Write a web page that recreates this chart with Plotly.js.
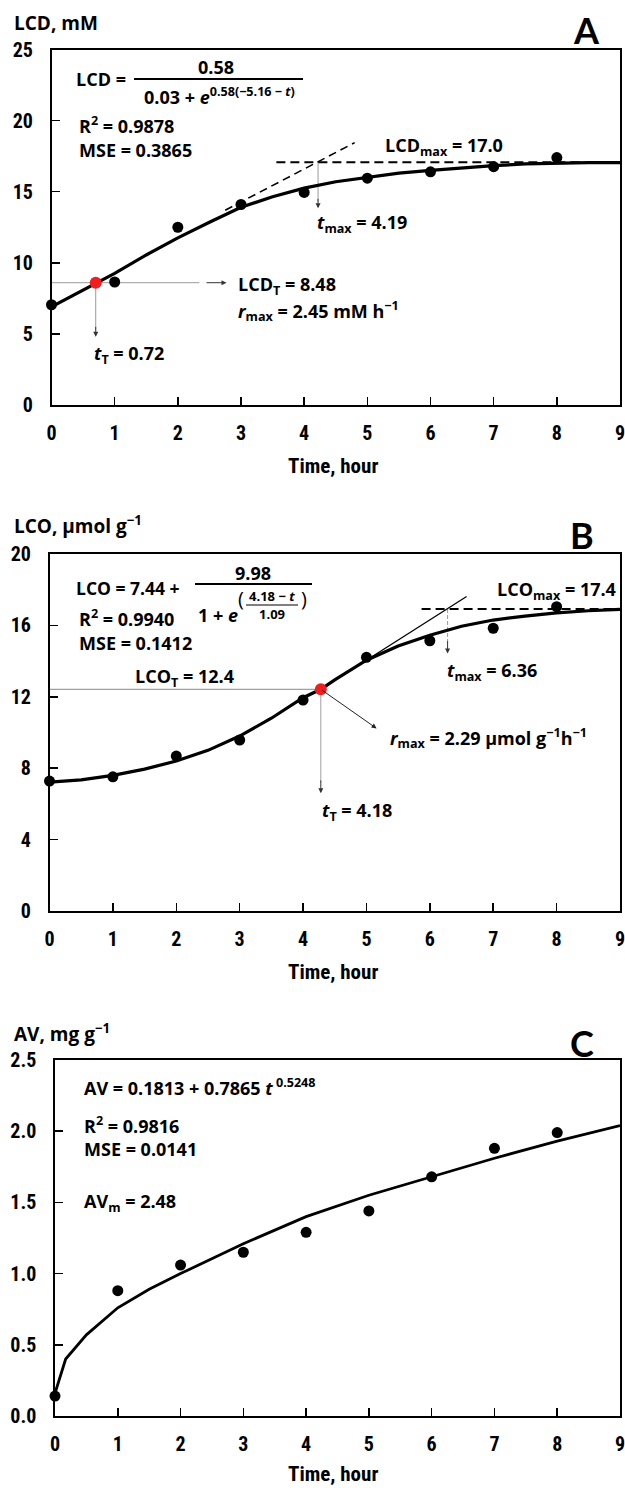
<!DOCTYPE html>
<html><head><meta charset="utf-8">
<script src="https://cdn.plot.ly/plotly-3.0.1.min.js"></script>
<style>html,body{margin:0;padding:0;background:#fff;}#chart{width:625px;height:1488px;}</style>
</head><body><div id="chart"></div>
<script>
// ---------- DATA ----------
const timePoints = [0,1,2,3,4,5,6,7,8];
const lcdObserved = [7.05,8.65,12.5,14.1,14.95,15.95,16.4,16.76,17.4];
const lcdCurveT = [0,0.5,0.7,1,1.5,2,2.5,3,3.5,4,4.5,5,5.5,6,6.5,7,7.5,8,8.5,9];
const lcdCurveY = [6.9,8.1,8.55,9.25,10.55,11.75,12.85,13.9,14.65,15.25,15.7,16.0,16.3,16.5,16.68,16.83,16.95,17.02,17.05,17.05];
const lcdTurnT = [0.7], lcdTurnY = [8.6];
const lcdTangentT = [2.75,4.8], lcdTangentY = [13.7,18.45];
const lcdMaxT = [3.56,8.4], lcdMaxY = [17.07,17.07];
const lcdGuideHT = [0,2.34], lcdGuideHY = [8.6,8.6];
const lcdGuideVT = [0.7,0.7], lcdGuideVY = [8.6,5.3];
const lcdTmaxT = [4.22,4.22], lcdTmaxY = [17.07,14.3];

const lcoObserved = [7.28,7.52,8.68,9.58,11.82,14.21,15.14,15.84,17.05];
const lcoCurveT = [0,0.5,1,1.5,2,2.5,3,3.5,4,4.28,4.5,5,5.5,6,6.5,7,7.5,8,8.5,9];
const lcoCurveY = [7.22,7.35,7.6,7.95,8.4,9.0,9.8,10.8,11.95,12.42,12.95,14.05,14.85,15.45,15.95,16.3,16.52,16.7,16.82,16.9];
const lcoTurnT = [4.28], lcoTurnY = [12.42];
const lcoTangentT = [4.28,6.58], lcoTangentY = [12.42,17.62];
const lcoMaxT = [5.87,9], lcoMaxY = [16.92,16.92];
const lcoGuideHT = [0,4.28], lcoGuideHY = [12.42,12.42];
const lcoGuideVT = [4.28,4.28], lcoGuideVY = [12.42,7.2];
const lcoTmaxT = [6.28,6.28], lcoTmaxY = [16.92,15.0];

const avObserved = [0.14,0.88,1.06,1.15,1.29,1.44,1.68,1.88,1.99];
const avCurveT = [0,0.17,0.5,1,1.5,2,3,4,5,6,7,8,9];
const avCurveY = [0.16,0.40,0.57,0.76,0.89,1.0,1.21,1.40,1.55,1.68,1.81,1.93,2.04];

const xTicks = [0,1,2,3,4,5,6,7,8,9];
const yTicksA = [0,5,10,15,20,25];
const yTicksB = [0,4,8,12,16,20];
const yTicksC = [0,0.5,1,1.5,2,2.5];
const yTickTextC = ['0.0','0.5','1.0','1.5','2.0','2.5'];

// ---------- LAYOUT HELPERS ----------
const W = 625, H = 1488;
const px = v => v / W;
const py = v => 1 - v / H;
const TXT = "'Open Sans', Lato, sans-serif";
const TICK = "'Liberation Sans Narrow', 'Roboto Condensed', 'Liberation Sans', sans-serif";

function line(xs, ys, xa, ya, opt) {
  return Object.assign({x: xs, y: ys, xaxis: xa, yaxis: ya, mode: 'lines', hoverinfo: 'skip', showlegend: false, cliponaxis: false}, opt);
}
function pts(xs, ys, xa, ya, color, size) {
  return {x: xs, y: ys, xaxis: xa, yaxis: ya, mode: 'markers', showlegend: false, cliponaxis: false,
          marker: {color: color, size: size, line: {width: 0}}};
}
const traces = [
  // A
  line(lcdGuideHT, lcdGuideHY, 'x', 'y', {line: {color: '#9a9a9a', width: 1}}),
  line(lcdGuideVT, lcdGuideVY, 'x', 'y', {line: {color: '#9a9a9a', width: 1}}),
  line(lcdTmaxT, lcdTmaxY, 'x', 'y', {line: {color: '#9a9a9a', width: 1}}),
  line(lcdTangentT, lcdTangentY, 'x', 'y', {line: {color: '#000', width: 1.6, dash: '8px,5px'}}),
  line(lcdMaxT, lcdMaxY, 'x', 'y', {line: {color: '#000', width: 2, dash: '9px,5px'}}),
  line(lcdCurveT, lcdCurveY, 'x', 'y', {line: {color: '#000', width: 3.2}}),
  pts(timePoints, lcdObserved, 'x', 'y', '#000', 11),
  pts(lcdTurnT, lcdTurnY, 'x', 'y', '#f01e1e', 12),
  // B
  line(lcoGuideHT, lcoGuideHY, 'x2', 'y2', {line: {color: '#a0a0a0', width: 1.3}}),
  line(lcoGuideVT, lcoGuideVY, 'x2', 'y2', {line: {color: '#a0a0a0', width: 1}}),
  line(lcoTmaxT, lcoTmaxY, 'x2', 'y2', {line: {color: '#9a9a9a', width: 1, dash: '4px,2px'}}),
  line(lcoTangentT, lcoTangentY, 'x2', 'y2', {line: {color: '#000', width: 1.3}}),
  line(lcoMaxT, lcoMaxY, 'x2', 'y2', {line: {color: '#000', width: 2, dash: '9px,5px'}}),
  line(lcoCurveT, lcoCurveY, 'x2', 'y2', {line: {color: '#000', width: 3.2}}),
  pts(timePoints, lcoObserved, 'x2', 'y2', '#000', 11),
  pts(lcoTurnT, lcoTurnY, 'x2', 'y2', '#f01e1e', 12),
  // C
  line(avCurveT, avCurveY, 'x3', 'y3', {line: {color: '#000', width: 2.8}}),
  pts(timePoints, avObserved, 'x3', 'y3', '#000', 11)
];

function xax(l, r, anchor) {
  return {domain: [px(l), px(r)], range: [0, 9], tickvals: xTicks, anchor: anchor,
    showline: true, mirror: true, linecolor: '#000', linewidth: 1.6, ticks: 'inside', ticklen: 8,
    tickwidth: 1.5, tickcolor: '#000', showgrid: false, zeroline: false, ticklabelstandoff: 9,
    ticklabeloverflow: 'allow',
    tickfont: {family: TICK, size: 20, color: '#000', weight: 'bold'}};
}
function yax(top, bot, range, vals, anchor, text) {
  const o = {domain: [py(bot), py(top)], range: range, tickvals: vals, anchor: anchor,
    showline: true, mirror: true, linecolor: '#000', linewidth: 1.6, ticks: 'inside', ticklen: 8,
    tickwidth: 1.5, tickcolor: '#000', showgrid: false, zeroline: false, ticklabelstandoff: 13,
    ticklabeloverflow: 'allow',
    tickfont: {family: TICK, size: 20, color: '#000', weight: 'bold'}};
  if (text) o.ticktext = text;
  return o;
}

const ann = [];
function T(text, x, y, size, anchor, extra) {
  ann.push(Object.assign({text: text, xref: 'paper', yref: 'paper', x: px(x), y: py(y),
    xanchor: anchor || 'left', yanchor: 'middle', showarrow: false,
    font: {family: TXT, size: size || 18, color: '#000'}}, extra || {}));
}
function arrow(xr, yr, x0, y0, x1, y1, color) {
  ann.push({text: '', xref: xr, yref: yr, axref: xr, ayref: yr, ax: x0, ay: y0, x: x1, y: y1,
    showarrow: true, arrowhead: 2, arrowsize: 1, arrowwidth: 1, arrowcolor: color || '#333'});
}
const TT = {font: {family: TICK, size: 21, color: '#000'}};
const BIG = {font: {family: "Lato, sans-serif", size: 36, color: '#000'}};

// Panel A texts
T('<b>LCD, mM</b>', 12, 23, 19);
T('<b>A</b>', 586, 30, 36, 'center', BIG);
T('<b>LCD =</b>', 74, 79, 18);
T('<b>0.58</b>', 216, 67, 18, 'center');
T('<b>0.03 + <i>e</i><sup>0.58(−5.16 − <i>t</i>)</sup></b>', 219, 96, 18, 'center');
T('<b>R<sup>2</sup> = 0.9878</b>', 77, 125, 18);
T('<b>MSE = 0.3865</b>', 77, 150, 18);
T('<b>LCD<sub>max</sub> = 17.0</b>', 383, 147, 18);
T('<b><i>t</i><sub>max</sub> = 4.19</b>', 315, 223, 18);
T('<b>LCD<sub>T</sub> = 8.48</b>', 236, 285, 18);
T('<b><i>r</i><sub>max</sub> = 2.45 mM h<sup>−1</sup></b>', 236, 311, 18);
T('<b><i>t</i><sub>T</sub> = 0.72</b>', 92, 354, 18);
T('<b>Time, hour</b>', 333, 466, 21, 'center', TT);
arrow('x', 'y', 2.43, 8.6, 2.77, 8.6, '#333');
arrow('x', 'y', 0.7, 5.6, 0.7, 4.8, '#333');
arrow('x', 'y', 4.22, 14.6, 4.22, 13.83, '#333');

// Panel B texts
T('<b>LCO, µmol g<sup>−1</sup></b>', 12, 525, 19);
T('<b>B</b>', 582, 535, 36, 'center', BIG);
T('<b>LCO = 7.44 +</b>', 74, 588, 17.5);
T('<b>9.98</b>', 253, 573, 18, 'center');
T('<b>1 + <i>e</i></b>', 196, 615, 18);
T('(', 241, 598, 20, 'center');
T(')', 304, 598, 20, 'center');
T('<b>4.18 − <i>t</i></b>', 272, 596, 13, 'center');
T('<b>1.09</b>', 272, 614, 13, 'center');
T('<b>R<sup>2</sup> = 0.9940</b>', 77, 618, 18);
T('<b>MSE = 0.1412</b>', 77, 643, 18);
T('<b>LCO<sub>T</sub> = 12.4</b>', 133, 678, 18);
T('<b>LCO<sub>max</sub> = 17.4</b>', 495, 590, 18);
T('<b><i>t</i><sub>max</sub> = 6.36</b>', 445, 671, 18);
T('<b><i>r</i><sub>max</sub> = 2.29 µmol g<sup>−1</sup>h<sup>−1</sup></b>', 388, 738, 18);
T('<b><i>t</i><sub>T</sub> = 4.18</b>', 320, 812, 18);
T('<b>Time, hour</b>', 333, 972, 21, 'center', TT);
arrow('x2', 'y2', 4.28, 12.42, 5.16, 10.23, '#222');
arrow('x2', 'y2', 4.28, 7.4, 4.28, 6.6, '#333');
arrow('x2', 'y2', 6.28, 15.2, 6.28, 14.43, '#333');

// Panel C texts
T('<b>AV, mg g<sup>−1</sup></b>', 12, 1033, 19);
T('<b>C</b>', 582, 1043, 36, 'center', BIG);
T('<b>AV = 0.1813 + 0.7865 <i>t</i><sup> 0.5248</sup></b>', 82, 1087, 18);
T('<b>R<sup>2</sup> = 0.9816</b>', 82, 1125, 18);
T('<b>MSE = 0.0141</b>', 82, 1149, 18);
T('<b>AV<sub>m</sub> = 2.48</b>', 82, 1202, 18);
T('<b>Time, hour</b>', 333, 1474, 21, 'center', TT);

const shapes = [
  {type: 'line', xref: 'paper', yref: 'paper', x0: px(134), x1: px(303), y0: py(79), y1: py(79), line: {color: '#000', width: 2}},
  {type: 'line', xref: 'paper', yref: 'paper', x0: px(195), x1: px(312), y0: py(584), y1: py(584), line: {color: '#000', width: 2}},
  {type: 'line', xref: 'paper', yref: 'paper', x0: px(246), x1: px(298), y0: py(605), y1: py(605), line: {color: '#000', width: 1.2}}
];

const layout = {
  width: W, height: H, margin: {l: 0, r: 0, t: 0, b: 0},
  paper_bgcolor: '#fff', plot_bgcolor: '#fff', showlegend: false,
  xaxis: xax(51.5, 620, 'y'),
  yaxis: yax(49.5, 405, [0, 25], yTicksA, 'x'),
  xaxis2: xax(49.5, 620, 'y2'),
  yaxis2: yax(554, 911, [0, 20], yTicksB, 'x2'),
  xaxis3: xax(55, 620, 'y3'),
  yaxis3: yax(1060, 1416, [0, 2.5], yTicksC, 'x3', yTickTextC),
  annotations: ann, shapes: shapes
};
Plotly.newPlot('chart', traces, layout, {staticPlot: true, displayModeBar: false});
</script></body></html>
